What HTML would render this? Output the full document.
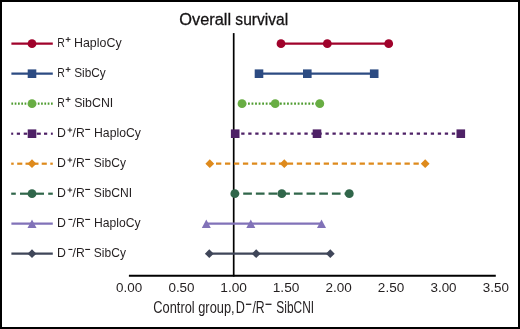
<!DOCTYPE html>
<html><head><meta charset="utf-8"><title>Overall survival</title>
<style>
html,body{margin:0;padding:0;background:#fff;}
body{width:520px;height:329px;overflow:hidden;position:relative;}
.frame{position:absolute;left:0;top:0;width:520px;height:329px;box-sizing:border-box;border:2px solid #000;background:#fff;}
svg{position:absolute;left:0;top:0;will-change:transform;}
text{font-family:"Liberation Sans",sans-serif;}
</style></head><body>
<div class="frame"></div>
<svg width="520" height="329" viewBox="0 0 520 329">

<text x="0" y="24.70" font-size="16.6" fill="#141213" transform="translate(179.230 0) scale(0.9866 1)" stroke="#141213" stroke-width="0.3">Overall</text>
<text x="0" y="24.70" font-size="16.6" fill="#141213" transform="translate(235.364 0) scale(0.9379 1)" stroke="#141213" stroke-width="0.3">survival</text>
<line x1="233.7" y1="33.1" x2="233.7" y2="276.6" stroke="#000" stroke-width="1.7"/>
<line x1="128.9" y1="275.8" x2="495.8" y2="275.8" stroke="#000" stroke-width="1.9"/>
<text x="0" y="291.80" font-size="13.5" fill="#231f20" transform="translate(116.026 0) scale(0.9953 1)">0.00</text>
<text x="0" y="291.80" font-size="13.5" fill="#231f20" transform="translate(168.426 0) scale(0.9953 1)">0.50</text>
<text x="0" y="291.80" font-size="13.5" fill="#231f20" transform="translate(220.308 0) scale(1.0154 1)">1.00</text>
<text x="0" y="291.80" font-size="13.5" fill="#231f20" transform="translate(272.708 0) scale(1.0154 1)">1.50</text>
<text x="0" y="291.80" font-size="13.5" fill="#231f20" transform="translate(325.474 0) scale(1.0012 1)">2.00</text>
<text x="0" y="291.80" font-size="13.5" fill="#231f20" transform="translate(377.874 0) scale(1.0012 1)">2.50</text>
<text x="0" y="291.80" font-size="13.5" fill="#231f20" transform="translate(430.440 0) scale(0.9948 1)">3.00</text>
<text x="0" y="291.80" font-size="13.5" fill="#231f20" transform="translate(482.840 0) scale(0.9948 1)">3.50</text>
<text x="0" y="313.50" font-size="16.3" fill="#231f20" transform="translate(153.346 0) scale(0.7872 1)">Control group,</text>
<text x="0" y="313.50" font-size="16.3" fill="#231f20" transform="translate(235.861 0) scale(0.7772 1)">D</text>
<path d="M245.90 304.30H251.30" stroke="#231f20" stroke-width="1.3" fill="none"/>
<text x="0" y="313.50" font-size="16.3" fill="#231f20" transform="translate(252.400 0) scale(0.7532 1)">/R</text>
<path d="M265.50 304.30H271.50" stroke="#231f20" stroke-width="1.3" fill="none"/>
<text x="0" y="313.50" font-size="16.3" fill="#231f20" transform="translate(276.352 0) scale(0.7309 1)">SibCNI</text>
<line x1="281.00" y1="43.70" x2="388.70" y2="43.70" stroke="#a0022b" stroke-width="2.2"/>
<circle cx="281.00" cy="43.70" r="4.4" fill="#a0022b"/>
<circle cx="327.30" cy="43.70" r="4.4" fill="#a0022b"/>
<circle cx="388.70" cy="43.70" r="4.4" fill="#a0022b"/>
<line x1="11.4" y1="43.70" x2="52.8" y2="43.70" stroke="#a0022b" stroke-width="2.2"/>
<circle cx="32.00" cy="43.70" r="4.4" fill="#a0022b"/>
<text x="0" y="46.95" font-size="12" fill="#231f20" transform="translate(57.343 0) scale(0.8713 1)">R</text>
<path d="M65.70 39.40H70.50M68.10 37.00V41.80" stroke="#231f20" stroke-width="1.0" fill="none"/>
<text x="0" y="46.95" font-size="12" fill="#231f20" transform="translate(73.981 0) scale(1.0353 1)">HaploCy</text>
<line x1="259.00" y1="73.70" x2="374.20" y2="73.70" stroke="#2c4b82" stroke-width="2.2"/>
<rect x="254.70" y="69.40" width="8.6" height="8.6" fill="#2c4b82"/>
<rect x="303.00" y="69.40" width="8.6" height="8.6" fill="#2c4b82"/>
<rect x="369.90" y="69.40" width="8.6" height="8.6" fill="#2c4b82"/>
<line x1="11.4" y1="73.70" x2="52.8" y2="73.70" stroke="#2c4b82" stroke-width="2.2"/>
<rect x="27.70" y="69.40" width="8.6" height="8.6" fill="#2c4b82"/>
<text x="0" y="76.95" font-size="12" fill="#231f20" transform="translate(57.343 0) scale(0.8713 1)">R</text>
<path d="M65.70 69.40H70.50M68.10 67.00V71.80" stroke="#231f20" stroke-width="1.0" fill="none"/>
<text x="0" y="76.95" font-size="12" fill="#231f20" transform="translate(74.154 0) scale(0.9892 1)">SibCy</text>
<line x1="242.00" y1="103.70" x2="319.80" y2="103.70" stroke="#4f9c30" stroke-width="2.2" stroke-dasharray="1.8 1.75" stroke-dashoffset="1.1"/>
<circle cx="242.00" cy="103.70" r="4.4" fill="#68ad43"/>
<circle cx="275.20" cy="103.70" r="4.4" fill="#68ad43"/>
<circle cx="319.80" cy="103.70" r="4.4" fill="#68ad43"/>
<line x1="11.4" y1="103.70" x2="52.8" y2="103.70" stroke="#4f9c30" stroke-width="2.2" stroke-dasharray="1.7 1.6"/>
<circle cx="32.00" cy="103.70" r="4.4" fill="#68ad43"/>
<text x="0" y="106.95" font-size="12" fill="#231f20" transform="translate(57.343 0) scale(0.8713 1)">R</text>
<path d="M65.70 99.40H70.50M68.10 97.00V101.80" stroke="#231f20" stroke-width="1.0" fill="none"/>
<text x="0" y="106.95" font-size="12" fill="#231f20" transform="translate(74.131 0) scale(1.0314 1)">SibCNI</text>
<line x1="235.20" y1="133.70" x2="460.80" y2="133.70" stroke="#4e2166" stroke-width="2.2" stroke-dasharray="3.3 3.72" stroke-dashoffset="1.0"/>
<rect x="230.90" y="129.40" width="8.6" height="8.6" fill="#4e2166"/>
<rect x="312.70" y="129.40" width="8.6" height="8.6" fill="#4e2166"/>
<rect x="456.50" y="129.40" width="8.6" height="8.6" fill="#4e2166"/>
<line x1="11.2" y1="133.70" x2="13.2" y2="133.70" stroke="#4e2166" stroke-width="2.2"/>
<line x1="16.8" y1="133.70" x2="20.0" y2="133.70" stroke="#4e2166" stroke-width="2.2"/>
<line x1="23.7" y1="133.70" x2="27.2" y2="133.70" stroke="#4e2166" stroke-width="2.2"/>
<line x1="36.7" y1="133.70" x2="40.8" y2="133.70" stroke="#4e2166" stroke-width="2.2"/>
<line x1="44.0" y1="133.70" x2="47.2" y2="133.70" stroke="#4e2166" stroke-width="2.2"/>
<line x1="50.9" y1="133.70" x2="52.8" y2="133.70" stroke="#4e2166" stroke-width="2.2"/>
<rect x="27.70" y="129.40" width="8.6" height="8.6" fill="#4e2166"/>
<text x="0" y="136.95" font-size="12" fill="#231f20" transform="translate(57.089 0) scale(1.0276 1)">D</text>
<path d="M67.60 130.05H72.20M69.90 127.75V132.35" stroke="#231f20" stroke-width="1.0" fill="none"/>
<text x="0" y="136.95" font-size="12" fill="#231f20" transform="translate(72.600 0) scale(1.0143 1)">/R</text>
<path d="M85.20 129.45H90.10" stroke="#231f20" stroke-width="1.1" fill="none"/>
<text x="0" y="136.95" font-size="12" fill="#231f20" transform="translate(93.997 0) scale(1.0197 1)">HaploCy</text>
<line x1="209.80" y1="163.70" x2="425.20" y2="163.70" stroke="#de8a1c" stroke-width="2.2" stroke-dasharray="5.3 3.677" stroke-dashoffset="2.78"/>
<polygon points="209.80,159.30 214.20,163.70 209.80,168.10 205.40,163.70" fill="#de8a1c"/>
<polygon points="284.30,159.30 288.70,163.70 284.30,168.10 279.90,163.70" fill="#de8a1c"/>
<polygon points="425.20,159.30 429.60,163.70 425.20,168.10 420.80,163.70" fill="#de8a1c"/>
<line x1="11.2" y1="163.70" x2="13.7" y2="163.70" stroke="#de8a1c" stroke-width="2.2"/>
<line x1="17.2" y1="163.70" x2="22.3" y2="163.70" stroke="#de8a1c" stroke-width="2.2"/>
<line x1="25.5" y1="163.70" x2="38.5" y2="163.70" stroke="#de8a1c" stroke-width="2.2"/>
<line x1="41.7" y1="163.70" x2="46.8" y2="163.70" stroke="#de8a1c" stroke-width="2.2"/>
<line x1="50.3" y1="163.70" x2="52.8" y2="163.70" stroke="#de8a1c" stroke-width="2.2"/>
<polygon points="32.00,159.30 36.40,163.70 32.00,168.10 27.60,163.70" fill="#de8a1c"/>
<text x="0" y="166.95" font-size="12" fill="#231f20" transform="translate(57.089 0) scale(1.0276 1)">D</text>
<path d="M67.60 160.05H72.20M69.90 157.75V162.35" stroke="#231f20" stroke-width="1.0" fill="none"/>
<text x="0" y="166.95" font-size="12" fill="#231f20" transform="translate(72.600 0) scale(1.0143 1)">/R</text>
<path d="M85.20 159.45H90.10" stroke="#231f20" stroke-width="1.1" fill="none"/>
<text x="0" y="166.95" font-size="12" fill="#231f20" transform="translate(93.847 0) scale(1.0019 1)">SibCy</text>
<line x1="234.80" y1="193.70" x2="349.30" y2="193.70" stroke="#30664a" stroke-width="2.2" stroke-dasharray="8.7 3.97" stroke-dashoffset="4.27"/>
<circle cx="234.80" cy="193.70" r="4.4" fill="#30664a"/>
<circle cx="281.80" cy="193.70" r="4.4" fill="#30664a"/>
<circle cx="349.30" cy="193.70" r="4.4" fill="#30664a"/>
<line x1="11.2" y1="193.70" x2="15.8" y2="193.70" stroke="#30664a" stroke-width="2.2"/>
<line x1="20.0" y1="193.70" x2="44.0" y2="193.70" stroke="#30664a" stroke-width="2.2"/>
<line x1="48.2" y1="193.70" x2="52.8" y2="193.70" stroke="#30664a" stroke-width="2.2"/>
<circle cx="32.00" cy="193.70" r="4.4" fill="#30664a"/>
<text x="0" y="196.95" font-size="12" fill="#231f20" transform="translate(57.089 0) scale(1.0276 1)">D</text>
<path d="M67.60 190.05H72.20M69.90 187.75V192.35" stroke="#231f20" stroke-width="1.0" fill="none"/>
<text x="0" y="196.95" font-size="12" fill="#231f20" transform="translate(72.600 0) scale(1.0143 1)">/R</text>
<path d="M85.20 189.45H90.10" stroke="#231f20" stroke-width="1.1" fill="none"/>
<text x="0" y="196.95" font-size="12" fill="#231f20" transform="translate(93.843 0) scale(1.0094 1)">SibCNI</text>
<line x1="206.30" y1="223.70" x2="321.50" y2="223.70" stroke="#8172b8" stroke-width="2.2"/>
<polygon points="206.30,219.50 210.80,227.90 201.80,227.90" fill="#8172b8"/>
<polygon points="250.80,219.50 255.30,227.90 246.30,227.90" fill="#8172b8"/>
<polygon points="321.50,219.50 326.00,227.90 317.00,227.90" fill="#8172b8"/>
<line x1="11.4" y1="223.70" x2="52.8" y2="223.70" stroke="#8172b8" stroke-width="2.2"/>
<polygon points="32.00,219.50 36.50,227.90 27.50,227.90" fill="#8172b8"/>
<text x="0" y="226.95" font-size="12" fill="#231f20" transform="translate(57.089 0) scale(1.0276 1)">D</text>
<path d="M68.40 219.45H72.40" stroke="#231f20" stroke-width="1.1" fill="none"/>
<text x="0" y="226.95" font-size="12" fill="#231f20" transform="translate(72.600 0) scale(1.0143 1)">/R</text>
<path d="M85.20 219.45H90.10" stroke="#231f20" stroke-width="1.1" fill="none"/>
<text x="0" y="226.95" font-size="12" fill="#231f20" transform="translate(94.003 0) scale(1.0131 1)">HaploCy</text>
<line x1="209.30" y1="253.70" x2="330.30" y2="253.70" stroke="#3f4659" stroke-width="2.2"/>
<polygon points="209.30,249.30 213.70,253.70 209.30,258.10 204.90,253.70" fill="#3f4659"/>
<polygon points="256.20,249.30 260.60,253.70 256.20,258.10 251.80,253.70" fill="#3f4659"/>
<polygon points="330.30,249.30 334.70,253.70 330.30,258.10 325.90,253.70" fill="#3f4659"/>
<line x1="11.4" y1="253.70" x2="52.8" y2="253.70" stroke="#3f4659" stroke-width="2.2"/>
<polygon points="32.00,249.30 36.40,253.70 32.00,258.10 27.60,253.70" fill="#3f4659"/>
<text x="0" y="256.95" font-size="12" fill="#231f20" transform="translate(57.089 0) scale(1.0276 1)">D</text>
<path d="M68.40 249.45H72.40" stroke="#231f20" stroke-width="1.1" fill="none"/>
<text x="0" y="256.95" font-size="12" fill="#231f20" transform="translate(72.600 0) scale(1.0143 1)">/R</text>
<path d="M85.20 249.45H90.10" stroke="#231f20" stroke-width="1.1" fill="none"/>
<text x="0" y="256.95" font-size="12" fill="#231f20" transform="translate(93.847 0) scale(1.0019 1)">SibCy</text>
</svg>
</body></html>
